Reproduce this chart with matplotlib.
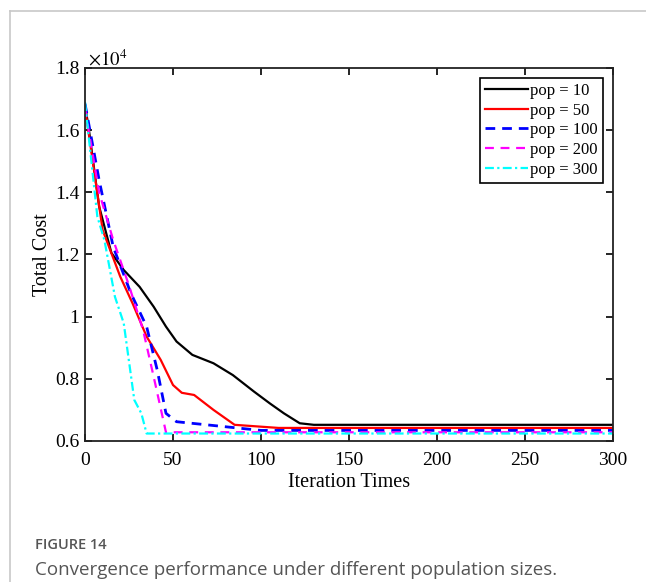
import matplotlib
matplotlib.use("Agg")
import matplotlib.pyplot as plt
from matplotlib.lines import Line2D
from matplotlib.ticker import FuncFormatter

plt.rcParams['font.family'] = ['Liberation Serif', 'DejaVu Serif']
plt.rcParams['mathtext.fontset'] = 'stix'

# convergence curves (iteration, total cost)
it_10 = [0, 2, 8, 15, 22, 31, 39, 46, 52, 61, 73, 84, 96, 105, 113, 122, 130, 300]
cost_10 = [16800, 16100, 13550, 12050, 11500, 10960, 10320, 9680, 9200, 8770, 8500,
           8120, 7590, 7210, 6890, 6570, 6520, 6520]

it_50 = [0, 1, 10, 20, 27, 35, 43, 50, 55, 62, 73, 85, 110, 300]
cost_50 = [16700, 16330, 12790, 11290, 10430, 9360, 8610, 7800, 7550, 7480, 7000,
           6520, 6420, 6420]

it_100 = [0, 8, 16, 26, 35, 41, 46, 52, 100, 300]
cost_100 = [16850, 14400, 12250, 10760, 9680, 8290, 6890, 6620, 6340, 6340]

it_200 = [0, 8, 16, 25, 33, 39, 46, 300]
cost_200 = [16700, 14000, 12470, 11000, 9570, 8070, 6280, 6280]

it_300 = [0, 7, 11, 17, 22, 28, 32, 35, 300]
cost_300 = [16900, 13220, 12470, 10640, 9790, 7320, 6890, 6240, 6240]

labels = ['pop = 10', 'pop = 50', 'pop = 100', 'pop = 200', 'pop = 300']

fig = plt.figure(figsize=(6.46, 5.82), dpi=100)
ax = fig.add_axes([0.1316, 0.2423, 0.8173, 0.6409])

ax.plot(it_10, cost_10, '-', color='black', lw=1.6, label=labels[0])
ax.plot(it_50, cost_50, '-', color='red', lw=1.6, label=labels[1])
ax.plot(it_100, cost_100, '--', color='blue', lw=2.0, dashes=(3.5, 2.5), label=labels[2])
ax.plot(it_200, cost_200, '--', color='magenta', lw=1.6, dashes=(4, 3), label=labels[3])
ax.plot(it_300, cost_300, '-.', color='cyan', lw=1.6, dashes=(4, 1.5, 1, 1.5), label=labels[4])

ax.set_xlim(0, 300)
ax.set_ylim(6000, 18000)
ax.set_xticks(range(0, 301, 50))
ax.set_yticks([6000, 8000, 10000, 12000, 14000, 16000, 18000])
ax.yaxis.set_major_formatter(FuncFormatter(lambda v, p: '%g' % (v / 1e4)))
ax.tick_params(direction='in', top=True, right=True, length=5, width=1.2,
               labelsize=14, pad=4)
ax.tick_params(axis='x', pad=8)
for s in ax.spines.values():
    s.set_linewidth(1.3)
    s.set_color('#222222')

ax.set_xlabel('Iteration Times', fontsize=14.5, labelpad=3)
ax.set_ylabel('Total Cost', fontsize=14.5, labelpad=2)
ax.text(0.006, 0.995, r'$\times10^{4}$', transform=ax.transAxes, fontsize=13.5,
        ha='left', va='bottom')

leg = ax.legend(loc='upper right', fontsize=12, frameon=True, fancybox=False,
                framealpha=1, edgecolor='black', handlelength=2.6,
                handletextpad=0.15, labelspacing=0.22, borderpad=0.3,
                borderaxespad=0.6)
leg.get_frame().set_linewidth(1.2)

# page frame and caption
fig.add_artist(Line2D([10 / 646, 10 / 646], [0, 1 - 11 / 582],
                      color='#c8c8c8', lw=1.2))
fig.add_artist(Line2D([10 / 646, 1], [1 - 11 / 582, 1 - 11 / 582],
                      color='#c8c8c8', lw=1.2))
fig.text(35 / 646, 1 - 545 / 582, 'FIGURE 14', fontsize=10.5, color='#555555',
         family=['Open Sans', 'DejaVu Sans'], weight='semibold', va='center')
fig.text(35 / 646, 1 - 570 / 582, 'Convergence performance under different population sizes.',
         fontsize=13.5, color='#555555', family=['Open Sans', 'DejaVu Sans'],
         va='center')

fig.savefig('out.png', dpi=100)
